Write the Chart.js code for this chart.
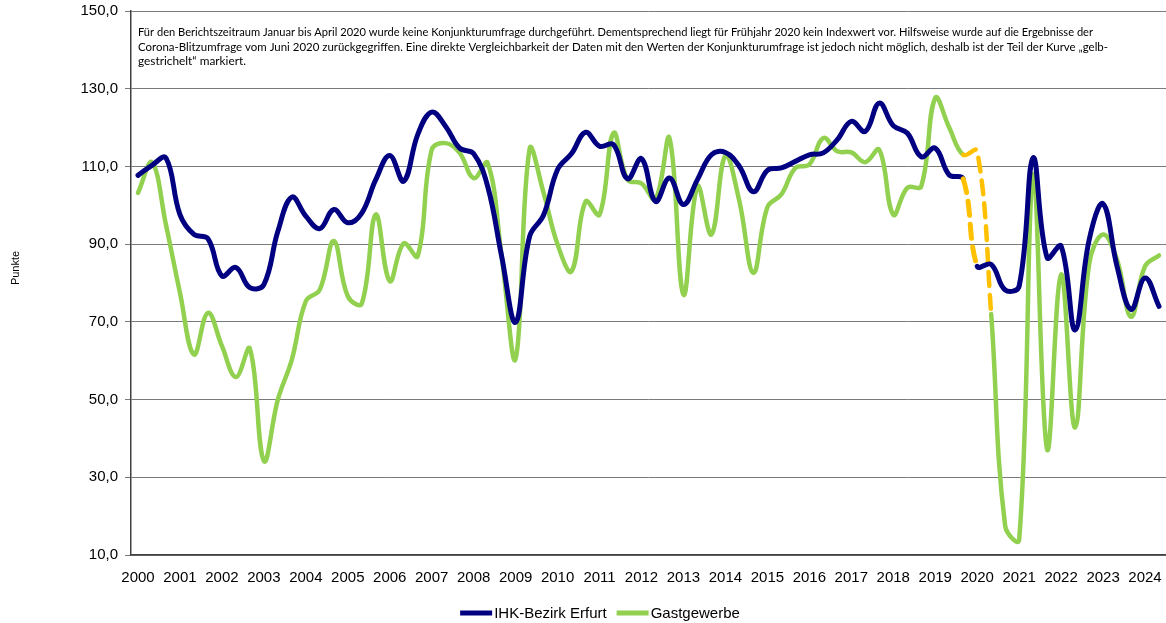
<!DOCTYPE html>
<html><head><meta charset="utf-8">
<script src="https://cdn.jsdelivr.net/npm/chart.js@4.4.1/dist/chart.umd.min.js"></script>
<style>html,body{margin:0;padding:0;background:#fff;overflow:hidden}#wrap{position:relative;width:1166px;height:623px}</style>
</head><body><div id="wrap"><canvas id="c" width="1166" height="623"></canvas></div>
<script>
const years = ['2000','2001','2002','2003','2004','2005','2006','2007','2008','2009','2010','2011','2012','2013','2014','2015','2016','2017','2018','2019','2020','2021','2022','2023','2024'];
const seasons = ['Jahresbeginn','Frühsommer','Herbst'];
const seriesNames = ['IHK-Bezirk Erfurt','Gastgewerbe'];
const ihkErfurt = [
 107.7,110.3,112.2, 97.6,92.5,91.4, 81.8,84.0,78.8, 79.6,93.3,102.1, 97.2,94.0,98.9,
 95.5,98.0,106.6, 112.8,106.2,118.2, 124.0,120.3,114.7, 113.3,104.9,86.9, 69.9,92.0,97.5,
 109.2,113.3,118.8, 115.2,115.6,106.8, 112.0,101.0,107.0, 100.2,106.6,113.0, 113.6,110.0,103.5,
 109.0,109.6,111.3, 113.0,113.5,116.9, 121.6,119.0,126.3, 120.5,118.6,112.5, 114.7,107.8,106.8,
 84.3,84.8,78.2, 79.2,112.2,86.5, 89.5,67.9,91.0, 100.4,84.3,73.2, 81.3,74.0];
const gastgewerbe = [
 103.2,111.0,95.0, 77.5,61.6,72.3, 63.8,55.8,63.1, 34.2,50.0,60.3, 75.3,78.3,90.8,
 76.6,74.7,97.6, 80.5,90.2,86.9, 114.3,116.0,113.5, 107.0,110.9,86.9, 60.5,114.5,103.2,
 89.9,83.0,101.0, 97.6,118.6,106.6, 105.6,101.5,117.3, 77.0,104.9,92.5, 112.8,101.0,82.6,
 99.5,102.8,109.6, 110.5,117.3,113.9, 113.6,111.1,114.3, 97.6,104.5,104.9, 127.6,120.0,113.0,
 114.0,72.0,17.5, 13.9,107.9,37.2, 82.2,42.8,84.8, 92.5,86.0,71.3, 84.3,87.1];
const yTicks = [10,30,50,70,90,110,130,150];
const bridgedIhk = [59];
const bridgedGast = [59,60];
const noteLines = [
 'Für den Berichtszeitraum Januar bis April 2020 wurde keine Konjunkturumfrage durchgeführt. Dementsprechend liegt für Frühjahr 2020 kein Indexwert vor. Hilfsweise wurde auf die Ergebnisse der',
 'Corona-Blitzumfrage vom Juni 2020 zurückgegriffen. Eine direkte Vergleichbarkeit der Daten mit den Werten der Konjunkturumfrage ist jedoch nicht möglich, deshalb ist der Teil der Kurve „gelb-',
 'gestrichelt“ markiert.'];
const noteWidths = [955, 970, 108];
const yTitle = 'Punkte';

const categories = [];
years.forEach(y => seasons.forEach(s => categories.push(s + ' ' + y)));
categories.length = ihkErfurt.length;

const COL_IHK = '#000080', COL_GAST = '#92D050', COL_BRIDGE = '#FFC000';
const FONT = "'Liberation Sans', Arial, sans-serif";

const extras = {
  id: 'extras',
  afterDraw(chart) {
    const ctx = chart.ctx;
    ctx.save();
    // note text
    ctx.fillStyle = '#000';
    ctx.font = "11.5px Lato, 'Open Sans', sans-serif";
    ctx.textBaseline = 'alphabetic';
    ctx.textAlign = 'left';
    noteLines.forEach((t, i) => {
      const w = ctx.measureText(t).width;
      ctx.save();
      ctx.translate(138, 36 + i * 14.5);
      ctx.scale(noteWidths[i] / w, 1);
      ctx.fillText(t, 0, 0);
      ctx.restore();
    });
    // y title
    ctx.save();
    ctx.font = '11px ' + FONT;
    ctx.translate(16, 268);
    ctx.rotate(-Math.PI / 2);
    ctx.textAlign = 'center';
    ctx.textBaseline = 'middle';
    ctx.fillText(yTitle, 0, 0);
    ctx.restore();
    // legend
    ctx.font = '15px ' + FONT;
    ctx.textBaseline = 'middle';
    const cols = [COL_IHK, COL_GAST];
    const sample = 32, gap = 2, itemGap = 10;
    const widths = seriesNames.map(n => sample + gap + ctx.measureText(n).width);
    const total = widths.reduce((a, b) => a + b, 0) + itemGap;
    let x = 600 - total / 2;
    const y = 613;
    seriesNames.forEach((n, i) => {
      ctx.strokeStyle = cols[i];
      ctx.lineWidth = 5;
      ctx.lineCap = 'butt';
      ctx.beginPath(); ctx.moveTo(x, y); ctx.lineTo(x + sample, y); ctx.stroke();
      ctx.fillText(n, x + sample + gap, y + 1);
      x += widths[i] + itemGap;
    });
    ctx.restore();
  }
};

new Chart(document.getElementById('c'), {
  type: 'line',
  data: {
    labels: categories,
    datasets: [
      { label: seriesNames[0], data: ihkErfurt, borderColor: COL_IHK, backgroundColor: COL_IHK,
        borderWidth: 5, tension: 0.4, pointRadius: 0, borderCapStyle: 'round', borderJoinStyle: 'round',
        segment: {
          borderColor: c => bridgedIhk.includes(c.p0DataIndex) ? COL_BRIDGE : undefined,
          borderDash: c => bridgedIhk.includes(c.p0DataIndex) ? [14, 9] : undefined } },
      { label: seriesNames[1], data: gastgewerbe, borderColor: COL_GAST, backgroundColor: COL_GAST,
        borderWidth: 4.5, tension: 0.4, pointRadius: 0, borderCapStyle: 'round', borderJoinStyle: 'round',
        segment: {
          borderColor: c => bridgedGast.includes(c.p0DataIndex) ? COL_BRIDGE : undefined,
          borderDash: c => bridgedGast.includes(c.p0DataIndex) ? [14, 9] : undefined } }
    ]
  },
  options: {
    responsive: false, animation: false, devicePixelRatio: 1,
    layout: { padding: { top: 11, left: 0, right: 0, bottom: 0 } },
    plugins: { legend: { display: false }, tooltip: { enabled: false }, title: { display: false } },
    scales: {
      x: {
        type: 'category', offset: true,
        grid: { display: false, drawTicks: false },
        border: { display: true, color: '#404040', width: 1.5 },
        ticks: { autoSkip: false, maxRotation: 0, minRotation: 0, padding: 14, color: '#000',
          font: { family: FONT, size: 15 },
          callback: (v, i) => (i % 3 === 0 ? years[i / 3] : '') },
        afterFit: s => { s.height = 68; s.paddingLeft = 0; s.paddingRight = 0; }
      },
      y: {
        min: 10, max: 150,
        afterBuildTicks: s => { s.ticks = yTicks.map(v => ({ value: v })); },
        grid: { color: '#7a7a7a', lineWidth: 1, tickLength: 6, drawTicks: true },
        border: { display: true, color: '#404040', width: 1.5 },
        ticks: { padding: 7, color: '#000', font: { family: FONT, size: 15 },
          callback: v => Number(v).toFixed(1).replace('.', ',') },
        afterFit: s => { s.width = 131; s.paddingTop = 0; s.paddingBottom = 0; }
      }
    }
  },
  plugins: [extras]
});
</script></body></html>
